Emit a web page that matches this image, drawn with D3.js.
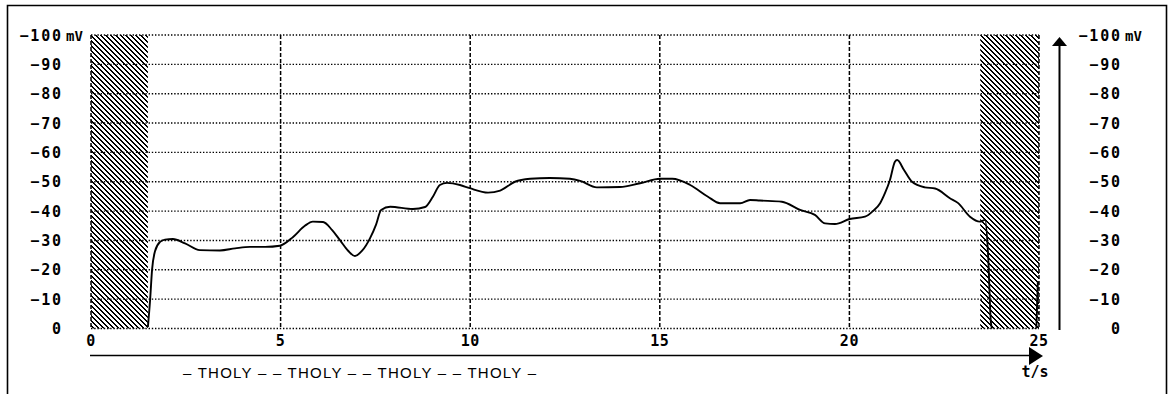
<!DOCTYPE html>
<html><head><meta charset="utf-8">
<script src="https://cdn.jsdelivr.net/npm/d3@7"></script>
<style>html,body{margin:0;padding:0;background:#fff;}svg{display:block;}</style>
</head><body>
<script>
// ---- data ----
const timeS = [1.50,1.56,1.61,1.69,1.82,1.95,2.16,2.48,2.87,3.40,3.80,4.19,4.59,4.98,5.33,5.64,5.85,6.12,6.36,6.57,6.78,6.96,7.15,7.36,7.52,7.65,7.89,8.49,8.81,9.02,9.20,9.39,9.73,9.99,10.47,10.79,11.18,11.58,12.10,12.63,12.90,13.34,13.95,14.48,15.01,15.33,15.80,16.27,16.59,17.12,17.38,17.64,18.22,18.70,19.09,19.36,19.62,20.01,20.41,20.62,20.81,20.94,21.07,21.20,21.26,21.44,21.65,21.99,22.26,22.65,22.86,23.18,23.44,23.58,23.66,23.73,23.76];
const potentialMV = [-0.5,-10,-20,-26.4,-29.5,-30.3,-30.5,-29,-26.7,-26.6,-27.3,-27.8,-27.8,-28.2,-31.2,-35,-36.4,-36.3,-33.5,-30,-26.5,-24.7,-26.5,-30.8,-35.5,-40.4,-41.5,-40.7,-41.4,-45,-48.9,-49.6,-48.9,-47.8,-46.3,-47,-50,-51,-51.3,-51,-50.3,-48.1,-48.2,-49.5,-51,-51,-48.9,-44.9,-42.7,-42.7,-43.8,-43.6,-43.2,-40.4,-38.7,-35.8,-35.6,-37.3,-38.1,-40,-42.7,-46.2,-50.6,-56.8,-57.4,-54,-50,-48.1,-47.7,-44.4,-42.8,-38.1,-36.4,-37,-24.5,-2.3,0];
const tailTime = [24.93,24.97];
const tailMV = [0,-16];
const yTicks = [0,-10,-20,-30,-40,-50,-60,-70,-80,-90,-100];
const xTicks = [0,5,10,15,20,25];
const hatchSpans = [[0,1.5],[23.45,25]];
const yUnit = "mV";
const xUnit = "t/s";
const footer = "– THOLY – – THOLY – – THOLY – – THOLY –";

const W = 1175, H = 394;
const svg = d3.select("body").append("svg").attr("width", W).attr("height", H);
const x = d3.scaleLinear().domain([0,25]).range([91,1039]);
const y = d3.scaleLinear().domain([0,-100]).range([328.5,35]);

// outer frame
svg.append("path").attr("d", `M7.5,${H+2} V5.5 H1166.5 V${H+2}`)
  .attr("fill","none").attr("stroke","#000").attr("stroke-width",1.6);

// hatch pattern: pixel-exact diagonal stripes (top-left to bottom-right)
const defs = svg.append("defs");
const P = 5;
const pat = defs.append("pattern").attr("id","hatch").attr("patternUnits","userSpaceOnUse")
  .attr("width",P).attr("height",P);
const cells = [];
for (let i = 0; i < P; i++) { cells.push([i % P, i]); cells.push([(i + 1) % P, i]); }
pat.selectAll("rect").data(cells).join("rect")
  .attr("x", d => d[0]).attr("y", d => d[1]).attr("width",1).attr("height",1)
  .attr("fill","#000").attr("shape-rendering","crispEdges");

svg.selectAll("rect.hatch").data(hatchSpans).join("rect").attr("class","hatch")
  .attr("x", d => x(d[0])).attr("y", y(-100))
  .attr("width", d => x(d[1]) - x(d[0])).attr("height", y(0) - y(-100))
  .attr("fill","url(#hatch)");

// horizontal dotted grid
svg.append("g").selectAll("line").data(yTicks).join("line")
  .attr("x1", x(0)).attr("x2", x(25)).attr("y1", d => y(d)).attr("y2", d => y(d))
  .attr("stroke","#000").attr("stroke-width",1.4).attr("stroke-dasharray","1.4,1.8");

// vertical dashed grid
svg.append("g").selectAll("line").data(xTicks).join("line")
  .attr("x1", d => x(d)).attr("x2", d => x(d)).attr("y1", y(-100)).attr("y2", y(0))
  .attr("stroke","#000").attr("stroke-width",1.5).attr("stroke-dasharray","4,2");

// trace
const line = d3.line().x(d => x(d[0])).y(d => y(d[1])).curve(d3.curveMonotoneX);
svg.append("path").datum(timeS.map((t,i)=>[t,potentialMV[i]]))
  .attr("d", line).attr("fill","none").attr("stroke","#000").attr("stroke-width",1.9);
svg.append("path").datum(tailTime.map((t,i)=>[t,tailMV[i]]))
  .attr("d", d3.line().x(d=>x(d[0])).y(d=>y(d[1]))).attr("fill","none").attr("stroke","#000").attr("stroke-width",1.9);

const mono = "'DejaVu Sans Mono', monospace";
const fmt = d => d === 0 ? "0" : "−" + Math.abs(d);
const LS = 1.8;
// left y labels
svg.append("g").selectAll("text").data(yTicks).join("text")
  .attr("x", 61 + LS).attr("y", d => y(d) + 5.5).attr("text-anchor","end")
  .attr("font-family", mono).attr("font-size", 15).attr("font-weight","bold").attr("letter-spacing", LS)
  .text(fmt);
svg.append("text").attr("x", 66).attr("y", y(-100)+5.5).attr("font-family", mono)
  .attr("font-size", 14).attr("font-weight","bold").text(yUnit);
// right y labels
svg.append("g").selectAll("text").data(yTicks).join("text")
  .attr("x", 1120 + LS).attr("y", d => y(d) + 5.5).attr("text-anchor","end")
  .attr("font-family", mono).attr("font-size", 15).attr("font-weight","bold").attr("letter-spacing", LS)
  .text(fmt);
svg.append("text").attr("x", 1125).attr("y", y(-100)+5.5).attr("font-family", mono)
  .attr("font-size", 14).attr("font-weight","bold").text(yUnit);

// x tick labels
svg.append("g").selectAll("text").data(xTicks).join("text")
  .attr("x", d => x(d)).attr("y", 346).attr("text-anchor","middle")
  .attr("font-family", mono).attr("font-size", 15).attr("font-weight","bold").attr("letter-spacing", 0.5)
  .text(d => d);

// x axis arrow
svg.append("line").attr("x1",90).attr("x2",1032).attr("y1",355.5).attr("y2",355.5)
  .attr("stroke","#000").attr("stroke-width",1.7);
svg.append("path").attr("d","M1029,347 L1043,356 L1029,365 Z").attr("fill","#000");
svg.append("text").attr("x",1035).attr("y",377).attr("text-anchor","middle")
  .attr("font-family", mono).attr("font-size", 15).attr("font-weight","bold").text(xUnit);

// right y axis arrow
svg.append("line").attr("x1",1059.5).attr("x2",1059.5).attr("y1",330).attr("y2",44)
  .attr("stroke","#000").attr("stroke-width",2);
svg.append("path").attr("d","M1052,46 L1059.5,37 L1067,46 Z").attr("fill","#000");

// footer
svg.append("text").attr("x",183).attr("y",378).attr("font-family","'Liberation Sans', Arial, sans-serif")
  .attr("font-size",15).attr("textLength",353).attr("lengthAdjust","spacing").text(footer);
</script>
</body></html>
